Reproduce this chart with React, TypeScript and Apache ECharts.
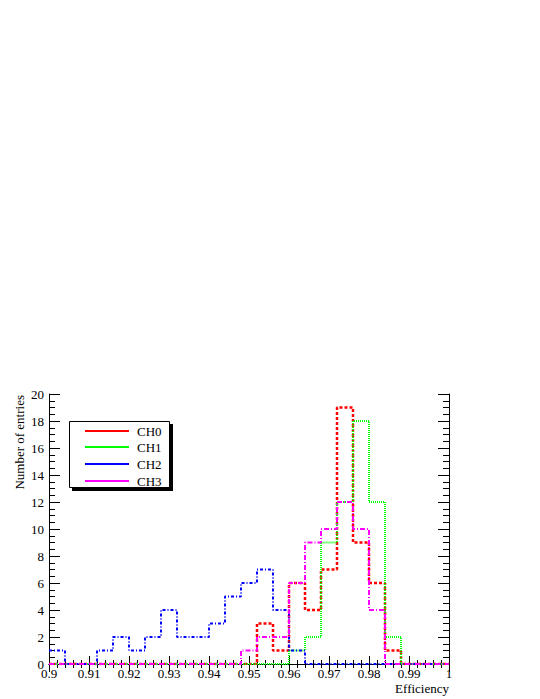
import React, { useEffect, useRef } from "react";
import * as echarts from "echarts";

const BIN_MIN = 0.9;
const BIN_WIDTH = 0.004;
const X_MAX = 1.0;

const ch0 = [0, 0, 0, 0, 0, 0, 0, 0, 0, 0, 0, 0, 0, 3, 1, 6, 4, 7, 19, 9, 6, 1, 0, 0, 0];
const ch1 = [0, 0, 0, 0, 0, 0, 0, 0, 0, 0, 0, 0, 0, 0, 0, 1, 2, 9, 12, 18, 12, 2, 0, 0, 0];
const ch2 = [1, 0, 0, 1, 2, 1, 2, 4, 2, 2, 3, 5, 6, 7, 4, 1, 0, 0, 0, 0, 0, 0, 0, 0, 0];
const ch3 = [0, 0, 0, 0, 0, 0, 0, 0, 0, 0, 0, 0, 1, 2, 2, 6, 9, 10, 12, 10, 4, 0, 0, 0, 0];

const seriesNames = ["CH0", "CH1", "CH2", "CH3"];
const seriesColors = ["#ff0000", "#00ff00", "#0000ff", "#ff00ff"];
const seriesDash: number[][] = [
  [3, 2],
  [1, 1],
  [3, 2, 1, 2],
  [5, 2, 1, 2],
];
const seriesWidth = [2.5, 2, 2, 2];

const FONT = "'Liberation Serif', 'Times New Roman', Times, serif";

function toSteps(values: number[]): number[][] {
  const pts: number[][] = values.map((v, i) => [Number((BIN_MIN + BIN_WIDTH * i).toFixed(3)), v]);
  pts.push([X_MAX, values[values.length - 1]]);
  return pts;
}

export default function App() {
  const ref = useRef<HTMLDivElement>(null);

  useEffect(() => {
    if (!ref.current) return;
    const chart = echarts.init(ref.current, undefined, { renderer: "svg" });
    const allData = [ch0, ch1, ch2, ch3];

    const tickCommon = {
      axisLine: { show: true, lineStyle: { color: "#000", width: 1 } },
      splitLine: { show: false },
    };

    const legendRows = [431, 447, 464, 481];
    const legendGraphics: any[] = [
      { type: "rect", shape: { x: 72, y: 424, width: 101, height: 67 }, style: { fill: "#000" }, z: 100 },
      { type: "rect", shape: { x: 69.5, y: 421.5, width: 100, height: 66 }, style: { fill: "#fff", stroke: "#000", lineWidth: 1 }, z: 101 },
    ];
    seriesNames.forEach((name, i) => {
      legendGraphics.push({
        type: "line",
        shape: { x1: 85, y1: legendRows[i], x2: 129, y2: legendRows[i] },
        style: { stroke: seriesColors[i], lineWidth: 2 },
        z: 102,
      });
      legendGraphics.push({
        type: "text",
        x: 137,
        y: legendRows[i],
        style: { text: name, fontSize: 13, fontFamily: FONT, fill: "#000", verticalAlign: "middle", align: "left" },
        z: 102,
      });
    });

    chart.setOption({
      animation: false,
      backgroundColor: "#fff",
      grid: { left: 49, top: 394, width: 400, height: 270, containLabel: false },
      xAxis: [
        {
          type: "value",
          min: BIN_MIN,
          max: X_MAX,
          interval: 0.01,
          position: "bottom",
          ...tickCommon,
          axisTick: { show: true, inside: true, length: 8, lineStyle: { color: "#000" } },
          minorTick: { show: true, splitNumber: 5, length: 4, lineStyle: { color: "#000" } },
          axisLabel: {
            show: true,
            margin: 3,
            fontSize: 13,
            fontFamily: FONT,
            color: "#000",
            formatter: (v: number) => String(parseFloat(v.toFixed(2))),
          },
        },
        {
          type: "value",
          min: BIN_MIN,
          max: X_MAX,
          interval: 0.01,
          position: "top",
          ...tickCommon,
          axisTick: { show: true, inside: true, length: 8, lineStyle: { color: "#000" } },
          minorTick: { show: true, splitNumber: 5, length: 4, lineStyle: { color: "#000" } },
          axisLabel: { show: false },
        },
      ],
      yAxis: [
        {
          type: "value",
          min: 0,
          max: 20,
          interval: 2,
          position: "left",
          ...tickCommon,
          axisTick: { show: true, inside: true, length: 11, lineStyle: { color: "#000" } },
          minorTick: { show: true, splitNumber: 4, length: 6, lineStyle: { color: "#000" } },
          axisLabel: { show: true, margin: 5, fontSize: 13, fontFamily: FONT, color: "#000" },
        },
        {
          type: "value",
          min: 0,
          max: 20,
          interval: 2,
          position: "right",
          ...tickCommon,
          axisTick: { show: true, inside: true, length: 11, lineStyle: { color: "#000" } },
          minorTick: { show: true, splitNumber: 4, length: 6, lineStyle: { color: "#000" } },
          axisLabel: { show: false },
        },
      ],
      series: allData.map((vals, i) => ({
        name: seriesNames[i],
        type: "line",
        step: "end",
        xAxisIndex: 0,
        yAxisIndex: 0,
        symbol: "none",
        data: toSteps(vals),
        lineStyle: { color: seriesColors[i], width: seriesWidth[i], type: seriesDash[i] },
        z: 2 + i,
      })),
      graphic: [
        {
          type: "text",
          x: 19,
          y: 395,
          rotation: Math.PI / 2,
          style: {
            text: "Number of entries",
            fontSize: 13,
            fontFamily: FONT,
            fill: "#000",
            align: "right",
            verticalAlign: "middle",
          },
        },
        {
          type: "text",
          x: 449,
          y: 688,
          style: {
            text: "Efficiency",
            fontSize: 13,
            fontFamily: FONT,
            fill: "#000",
            align: "right",
            verticalAlign: "middle",
          },
        },
        ...legendGraphics,
      ],
    });

    return () => {
      chart.dispose();
    };
  }, []);

  return (
    <div
      ref={ref}
      style={{ position: "fixed", left: 0, top: 0, width: 540, height: 699, background: "#fff" }}
    />
  );
}
